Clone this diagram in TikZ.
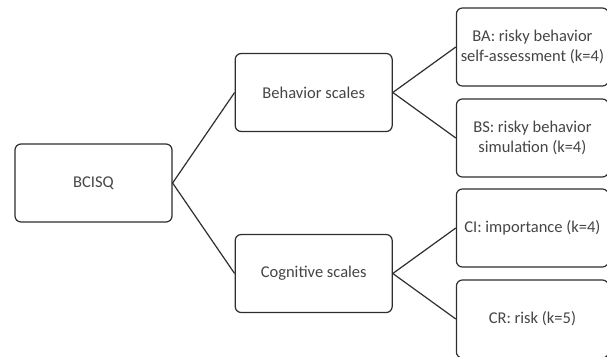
\documentclass[tikz,border=0pt]{standalone}
\usepackage{fontspec}
\setmainfont{Carlito}
\usepackage{tikz}
\usetikzlibrary{positioning}

\definecolor{boxline}{HTML}{2E2E2E}
\definecolor{boxtext}{HTML}{454545}

\begin{document}
\begin{tikzpicture}[-,auto,line width=1.2pt,draw=boxline,
  main node/.style={rectangle,rounded corners=6pt,fill=white,draw=boxline,text=boxtext,
    minimum width=157pt,minimum height=78pt,align=center,
    font=\fontsize{16.5}{19.5}\selectfont},
  sub node/.style={main node},
  leaf node/.style={main node,minimum width=152pt}]

  \useasboundingbox (0pt,0pt) rectangle (607pt,-356pt);

  \node[main node] (q) at (93.5pt,-183pt) {BCISQ};
  \node[sub node] (beh) [right=62pt of q,yshift=90.5pt] {Behavior scales};
  \node[sub node] (cog) [right=62pt of q,yshift=-90.5pt] {Cognitive scales};

  \node[leaf node] (ba) [right=63pt of beh,yshift=45.5pt] {BA: risky behavior\\self-assessment (k=4)};
  \node[leaf node] (bs) [right=63pt of beh,yshift=-45.5pt] {BS: risky behavior\\simulation (k=4)};
  \node[leaf node] (ci) [right=63pt of cog,yshift=45.5pt] {CI: importance (k=4)};
  \node[leaf node] (cr) [right=63pt of cog,yshift=-45.5pt] {CR: risk (k=5)};

    \path[draw=boxline]
    (q.east) edge (beh.west)
    (q.east) edge (cog.west)
    (beh.east) edge (ba.west)
    (beh.east) edge (bs.west)
    (cog.east) edge (ci.west)
    (cog.east) edge (cr.west)
    ;

\end{tikzpicture}
\end{document}
